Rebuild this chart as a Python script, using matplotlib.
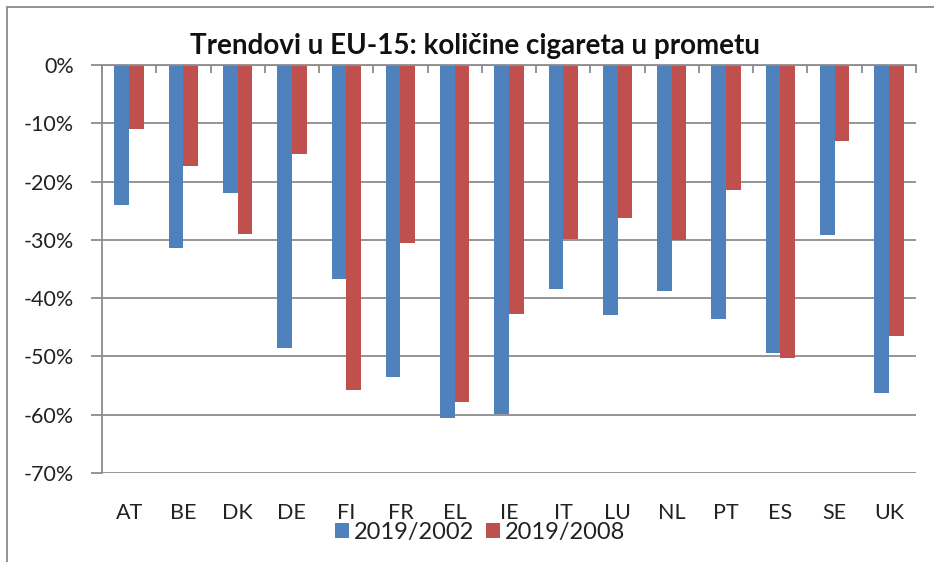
import matplotlib
matplotlib.use("Agg")
import matplotlib.pyplot as plt
import numpy as np
from matplotlib.patches import Rectangle, Patch
from matplotlib.ticker import FuncFormatter, FixedLocator

categories = ["AT", "BE", "DK", "DE", "FI", "FR", "EL", "IE", "IT", "LU", "NL", "PT", "ES", "SE", "UK"]
series_2002 = [-24.0, -31.4, -21.9, -48.5, -36.7, -53.5, -60.6, -59.8, -38.5, -42.9, -38.7, -43.5, -49.4, -29.2, -56.3]
series_2008 = [-11.0, -17.4, -29.0, -15.2, -55.7, -30.5, -57.9, -42.7, -29.8, -26.3, -30.1, -21.5, -50.3, -13.0, -46.5]
series_names = ["2019/2002", "2019/2008"]
y_ticks = [0, -10, -20, -30, -40, -50, -60, -70]

BLUE = "#4F81BD"
RED = "#C0504D"
GRID = "#8C8C8C"

plt.rcParams['font.family'] = ['Lato', 'DejaVu Sans']

fig = plt.figure(figsize=(9.34, 5.62), dpi=100)
fig.patch.set_facecolor("white")

# outer chart border
fig.patches.append(Rectangle((7 / 934, -0.05), 1.2, 1 - 7 / 562 + 0.05,
                             transform=fig.transFigure, fill=False,
                             edgecolor="#8A8A8A", linewidth=1.3))

ax = fig.add_axes([102 / 934, 1 - 473 / 562, (916 - 102) / 934, (473 - 65) / 562])

x = np.arange(len(categories))
w = 0.27
ax.bar(x - w / 2, series_2002, width=w, color=BLUE, label=series_names[0], zorder=3)
ax.bar(x + w / 2, series_2008, width=w, color=RED, label=series_names[1], zorder=3)

ax.set_xlim(-0.5, len(categories) - 0.5)
ax.set_ylim(-70, 0)
ax.set_yticks(y_ticks)
ax.yaxis.set_major_formatter(FuncFormatter(lambda v, p: f"{int(round(v))}%"))
ax.grid(axis="y", color=GRID, linewidth=1.3, zorder=0)

for s in ["right", "bottom"]:
    ax.spines[s].set_visible(False)
ax.spines["left"].set_color(GRID)
ax.spines["left"].set_linewidth(1.3)
ax.spines["top"].set_color(GRID)
ax.spines["top"].set_linewidth(1.3)
ax.spines["top"].set_zorder(4)

ax.tick_params(axis="y", colors=GRID, length=8, width=1.3, labelsize=15.5, labelcolor="#222222", pad=12)

# category labels at bottom, category boundary ticks on the top (0%) line
ax.set_xticks(x)
ax.set_xticklabels(categories)
ax.tick_params(axis="x", which="major", bottom=False, top=False, labelsize=15.5,
               labelcolor="#222222", pad=18)
ax.xaxis.set_minor_locator(FixedLocator(np.arange(-0.5, len(categories), 1.0)))
ax.tick_params(axis="x", which="minor", top=True, bottom=False, direction="in",
               length=6, width=1.3, color=GRID)

fig.text(475 / 934, 1 - 54.5 / 562, "Trendovi u EU-15: količine cigareta u prometu",
         fontsize=20, fontweight="bold", color="#111111", ha="center", va="baseline")

handles = [Patch(facecolor=BLUE, label=series_names[0]), Patch(facecolor=RED, label=series_names[1])]
fig.legend(handles=handles, loc="center", bbox_to_anchor=(480 / 934, 1 - 532 / 562),
           ncol=2, frameon=False, fontsize=17, handlelength=0.6, handleheight=0.6,
           handletextpad=0.2, columnspacing=0.5, labelcolor="#222222",
           borderpad=0, borderaxespad=0)

fig.savefig("out.png", dpi=100, facecolor="white")
